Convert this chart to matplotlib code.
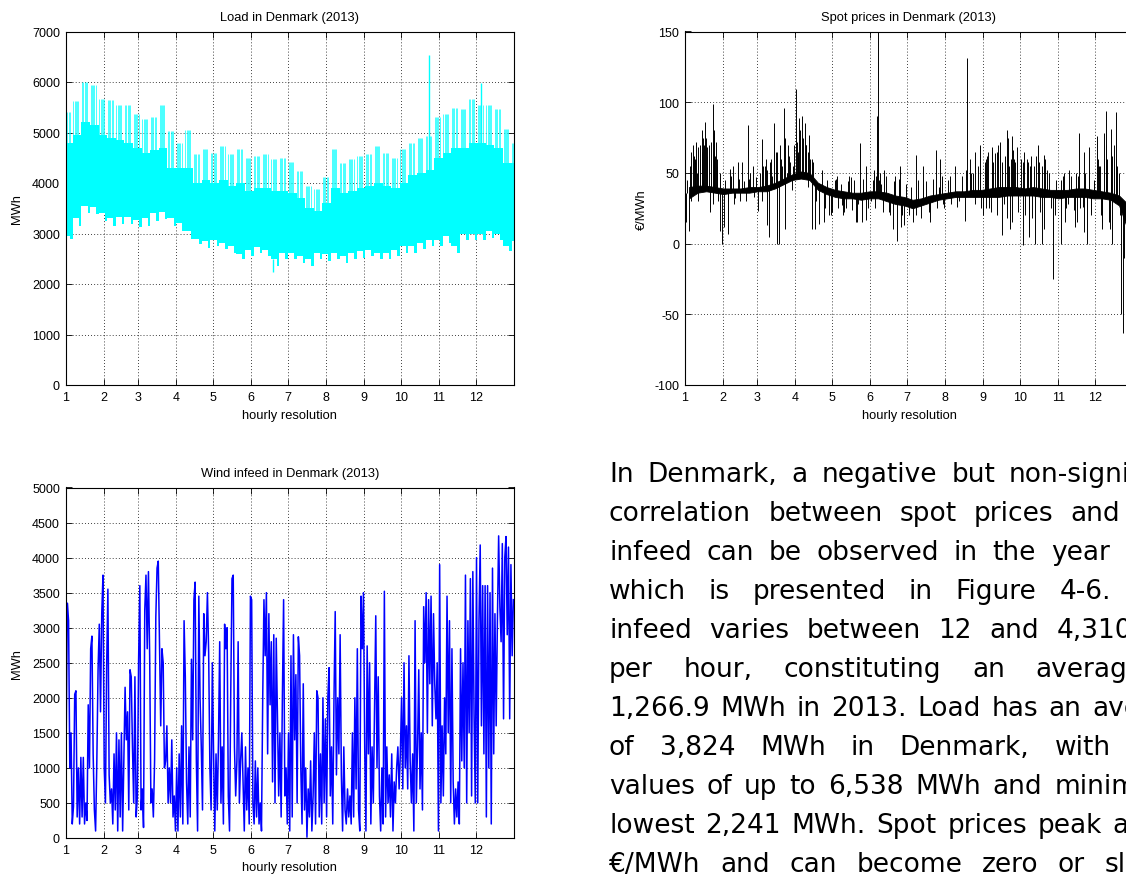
import numpy as np
import matplotlib
matplotlib.use("Agg")
import matplotlib.pyplot as plt

plt.rcParams["axes.unicode_minus"] = False

# ---------------------------------------------------------------
# Calendar of 2013 on a day-of-year axis (ticks at month starts)
# ---------------------------------------------------------------
month_start_days = [0, 31, 59, 90, 120, 151, 181, 212, 243, 273, 304, 334]
month_labels = [str(m) for m in range(1, 13)]
year_days = 365

# ---------------------------------------------------------------
# Load (MWh): weekday / weekend envelopes of the hourly series
# ---------------------------------------------------------------
load_wd_top = [5400, 5620, 6000, 5950, 5660, 5640, 5550, 5550, 5360, 5260,
               5310, 5550, 5030, 4800, 5050, 4570, 4670, 4600, 4730, 4570,
               4670, 4500, 4540, 4570, 4470, 4500, 4420, 4230, 3940, 3880,
               4110, 4670, 4400, 4470, 4540, 4570, 4730, 4600, 4500, 4670,
               4800, 4900, 4930, 5300, 5360, 5490, 5460, 5660, 5550, 5550,
               5460, 5060, 4800]
load_we_top = [4800, 4950, 5200, 5150, 4950, 4900, 4850, 4800, 4700, 4600,
               4650, 4700, 4300, 4300, 4300, 4000, 4050, 4000, 4050, 3950,
               4000, 3850, 3900, 3900, 3850, 3850, 3800, 3700, 3500, 3450,
               3600, 3900, 3800, 3850, 3900, 3950, 4000, 3950, 3900, 4000,
               4150, 4200, 4250, 4500, 4600, 4700, 4700, 4800, 4800, 4750,
               4700, 4400]
load_wd_low = [2950, 3300, 3550, 3530, 3400, 3300, 3330, 3330, 3270, 3300,
               3400, 3430, 3300, 3200, 3050, 2900, 2850, 2880, 2820, 2750,
               2600, 2680, 2740, 2680, 2500, 2620, 2620, 2550, 2500, 2620,
               2600, 2620, 2550, 2620, 2650, 2680, 2620, 2620, 2680, 2750,
               2750, 2820, 2880, 2880, 2950, 2750, 3000, 3000, 3000, 3050,
               3000, 2750, 2850]
load_we_low = [2900, 3150, 3400, 3380, 3250, 3150, 3180, 3180, 3120, 3150,
               3250, 3280, 3150, 3050, 2900, 2790, 2720, 2750, 2690, 2620,
               2490, 2560, 2620, 2560, 2360, 2490, 2490, 2420, 2360, 2490,
               2460, 2490, 2420, 2490, 2520, 2560, 2490, 2490, 2560, 2620,
               2620, 2690, 2750, 2750, 2820, 2620, 2880, 2880, 2880, 2920,
               2880, 2650]
load_peak_days = [295.6, 338.0]
load_peak_vals = [6538, 5990]
load_dip_days = [169.0]
load_dip_vals = [2241]

# ---------------------------------------------------------------
# Spot prices (EUR/MWh): weekly core band plus single-hour spikes
# ---------------------------------------------------------------
spot_core_lo = [32, 36, 37, 36, 35, 36, 36, 36, 37, 37, 39, 42, 45, 46, 45,
                38, 35, 33, 32, 32, 31, 32, 32, 30, 28, 27, 25, 27, 29, 31,
                32, 33, 33, 33, 33, 33, 33, 34, 34, 34, 34, 33, 33, 32, 33,
                33, 33, 32, 32, 31, 27, 10, 10]
spot_core_hi = [40, 41, 41, 40, 39, 39, 39, 40, 40, 41, 43, 46, 49, 51, 50,
                43, 40, 38, 37, 36, 36, 37, 37, 36, 34, 33, 31, 32, 34, 35,
                36, 37, 37, 38, 38, 39, 40, 40, 40, 39, 40, 39, 38, 38, 38,
                39, 39, 38, 37, 36, 34, 28, 28]
spot_spike_days = [6.8, 9.6, 12.3, 13.7, 16.4, 17.7, 19.7, 22.7, 24.0, 25.1,
                   36.9, 39.6, 43.7, 46.4, 51.9, 55.2, 62.8, 65.5, 69.6, 72.9,
                   77.8, 80.5, 90.6, 93.4, 95.5, 97.7, 101.0, 112.0, 123.0,
                   134.0, 142.8, 147.4, 154.2, 156.2, 157.0, 162.4, 171.4,
                   175.5, 188.4, 193.8, 204.2, 207.5, 230.1, 232.0, 236.1,
                   240.2, 247.1, 249.8, 253.9, 256.6, 262.0, 266.1, 270.2,
                   278.3, 287.9, 292.0, 296.1, 308.4, 312.5, 320.7, 324.8,
                   328.9, 335.2, 341.2, 342.6, 346.7, 350.8, 353.5,
                   1.4, 3.3, 20.4, 28.6, 30.5, 32.2, 34.9, 60.0, 67.3, 68.2,
                   75.0, 76.4, 81.3, 103.7, 106.4, 109.2, 113.3, 117.4, 120.1,
                   128.3, 131.0, 139.2, 144.1, 147.9, 151.5, 166.5, 169.3,
                   172.5, 175.9, 178.8, 182.9, 210.2, 228.0, 243.0, 258.0,
                   264.8, 275.2, 279.8, 285.3, 290.7, 299.8, 301.7, 306.3,
                   309.9, 319.4, 327.1, 330.3, 339.9, 348.1, 355.0, 356.3,
                   357.6]
spot_spike_vals = [70, 72, 70, 80, 86, 75, 70, 99, 80, 72,
                   53, 55, 58, 58, 84, 55, 74, 55, 58, 85,
                   70, 96, 109, 89, 90, 85, 77, 52, 46,
                   48, 71, 55, 52, 90, 180, 52, 48,
                   55, 63, 55, 66, 60, 131, 60, 65,
                   70, 65, 65, 65, 72, 80, 76, 68,
                   60, 70, 63, 50, 50, 52, 78, 65,
                   68, 76, 78, 94, 81, 93, 50,
                   15, 9, 22, 9, 0, 12, 7, 23, 13, 5,
                   0, 0, 10, 10, 10, 14, 15, 20, 22,
                   27, 25, 15, 15, 17, 30, 22, 10,
                   2, 12, 13, 20, 28, 16, 20, 6,
                   10, -1, 5, 0, 0, -25, 20, 0,
                   15, 15, 0, 20, 10, 0, -50, -63,
                   -10]
# smaller excursions around the core band
spot_minor_days = [2, 4, 5, 8, 10, 11, 14, 15, 18, 21, 23, 26, 27, 29,
                   33, 35, 38, 41, 44, 48, 50, 53, 56, 58,
                   61, 63, 66, 71, 74, 79, 83, 85, 87, 89,
                   92, 99, 100, 104, 107, 110, 114, 116, 119,
                   122, 125, 127, 130, 133, 136, 138, 141, 145, 149,
                   153, 155, 159, 161, 164, 167, 170, 174, 177, 180,
                   184, 186, 190, 192, 196, 199, 202, 205, 209, 211,
                   214, 217, 220, 223, 226, 233, 236, 239, 241,
                   245, 248, 251, 254, 257, 260, 264, 268, 271,
                   275, 277, 281, 283, 286, 289, 295, 298, 302,
                   306, 310, 314, 317, 320, 322, 326, 331, 333,
                   337, 339, 344, 345, 348, 352, 354,
                   5.5, 7.5, 8.3, 11.0, 12.8, 15.0, 16.0, 18.5, 21.0, 23.5,
                   24.5, 26.0, 64, 67, 70, 75.5, 78.5, 82, 84, 86, 88,
                   91.5, 92.5, 94, 96, 98.5, 100.5, 102, 104.5, 155.5, 158,
                   160, 244, 246, 250, 252.5, 255, 258.5, 261, 263, 265.5,
                   267, 269, 274, 276, 279, 282, 284.5, 288, 291, 293, 336,
                   338, 343, 347, 349, 351, 245.5, 249, 262, 266, 280, 292,
                   300, 318, 325, 340, 346, 40, 45, 52, 124, 129, 135, 140,
                   188, 194, 200, 207, 216, 222, 229, 235, 308, 312, 318.5,
                   324, 329]
spot_minor_vals = [45, 55, 30, 60, 50, 30, 65, 45, 62, 50, 28, 55, 30, 50,
                   45, 30, 48, 32, 46, 44, 30, 50, 33, 47,
                   50, 30, 60, 48, 65, 55, 50, 62, 38, 70,
                   62, 70, 40, 60, 30, 42, 25, 45, 20,
                   45, 25, 42, 22, 44, 24, 45, 28, 46, 25,
                   45, 25, 50, 22, 48, 20, 44, 46, 20, 42,
                   40, 15, 45, 18, 44, 22, 46, 25, 48, 25,
                   45, 28, 55, 30, 48, 50, 28, 55, 25,
                   60, 25, 58, 20, 62, 28, 55, 60, 22,
                   58, 20, 55, 18, 62, 22, 52, 25, 45,
                   45, 25, 48, 24, 48, 25, 50, 22, 45,
                   55, 20, 60, 15, 62, 55, 20,
                   65, 62, 58, 68, 60, 75, 70, 68, 72, 78,
                   62, 60, 55, 52, 60, 65, 60, 75, 70, 58, 55,
                   72, 65, 80, 75, 70, 65, 60, 58, 48, 45,
                   42, 58, 62, 68, 64, 70, 58, 62, 75, 60,
                   66, 58, 60, 65, 58, 62, 55, 58, 55, 60, 60,
                   55, 70, 65, 70, 60, 25, 22, 18, 15, 12, 10,
                   5, 12, 8, 15, 10, 28, 30, 46, 48, 20, 47, 15,
                   20, 42, 15, 40, 48, 26, 52, 50, 48, 28, 50,
                   26, 52]

# ---------------------------------------------------------------
# Wind infeed (MWh): one reading per day of 2013
# ---------------------------------------------------------------
wind_jan = [1300, 3350, 3100, 1000, 1500, 200, 450, 2050, 2100, 300, 1000,
            200, 1150, 300, 1150, 200, 500, 250, 1900, 1000, 2700, 2880,
            1200, 400, 100, 1100, 2400, 3050, 1800, 3200, 3750]
wind_feb = [1000, 500, 2450, 3550, 900, 500, 700, 200, 1200, 400, 1500, 100,
            1400, 300, 1500, 100, 1100, 2150, 1400, 1800, 400, 2400, 2300,
            1300, 500, 2300, 300, 600]
wind_mar = [2550, 3600, 400, 700, 150, 3250, 3750, 2700, 3800, 2600, 500,
            700, 300, 1100, 3150, 3850, 3950, 2800, 1600, 2700, 2500, 1000,
            1100, 1600, 500, 1000, 500, 1400, 300, 600, 100]
wind_apr = [1000, 100, 1200, 300, 1600, 200, 3100, 2300, 800, 200, 1300,
            300, 2550, 1400, 3400, 3650, 1100, 100, 3450, 2000, 1300, 400,
            3200, 2600, 2800, 3500, 2650, 1000, 400, 2500]
wind_may = [1200, 100, 1200, 400, 1400, 2800, 500, 1300, 200, 3050, 2700,
            3000, 600, 100, 2100, 3700, 3750, 1300, 600, 1100, 2800, 500,
            1100, 1500, 800, 100, 1300, 400, 1000, 200, 3450]
wind_jun = [3400, 500, 200, 1100, 300, 1000, 200, 500, 100, 2000, 3400, 2600,
            3500, 1200, 3200, 1900, 2800, 800, 2900, 500, 2850, 1700, 600,
            1500, 300, 2000, 3400, 600, 1000, 200]
wind_jul = [1500, 100, 2600, 300, 2900, 1400, 2330, 500, 2870, 2600, 1000,
            200, 2200, 400, 1000, 12, 700, 300, 1100, 100, 600, 1500, 200,
            2100, 2000, 300, 1200, 200, 2000, 500, 1700]
wind_aug = [300, 2000, 2430, 600, 1300, 200, 2000, 3230, 900, 2000, 1200,
            2900, 900, 100, 1300, 400, 200, 700, 300, 600, 200, 1500, 300,
            2000, 700, 2700, 400, 100, 3450, 2700, 3500]
wind_sep = [1300, 100, 2740, 1200, 2500, 200, 1300, 500, 1800, 3170, 1000,
            2300, 600, 100, 1000, 200, 3520, 300, 1300, 500, 900, 300, 1200,
            100, 800, 500, 1000, 1300, 700, 1200]
wind_oct = [2000, 700, 2500, 1000, 1600, 700, 2600, 1100, 500, 1200, 100,
            3100, 500, 1300, 2400, 700, 1500, 400, 3300, 2500, 3500, 1500,
            3400, 2200, 3450, 1600, 3200, 2200, 1700, 2500, 100]
wind_nov = [3900, 500, 1600, 600, 2000, 1200, 3450, 1500, 3100, 500, 2700,
            800, 200, 700, 300, 800, 200, 2700, 1100, 2500, 1000, 3750, 500,
            3100, 1500, 3700, 600, 3800, 1750, 500]
wind_dec = [4000, 500, 3100, 4180, 1600, 3600, 1200, 3600, 300, 3600, 1000,
            3500, 200, 3850, 1200, 3200, 1600, 3100, 4310, 3300, 2800, 4200,
            1700, 4000, 4300, 2900, 4150, 1700, 3900, 2600, 3400]

# ---------------------------------------------------------------
# Accompanying paragraph (justified lines, right margin per line)
# ---------------------------------------------------------------
paragraph_lines = [
    "In Denmark, a negative but non-significant",
    "correlation between spot prices and wind",
    "infeed can be observed in the year 2013,",
    "which is presented in Figure 4-6. Wind",
    "infeed varies between 12 and 4,310 MWh",
    "per hour, constituting an average of",
    "1,266.9 MWh in 2013. Load has an average",
    "of 3,824 MWh in Denmark, with peak",
    "values of up to 6,538 MWh and minimum at",
    "lowest 2,241 MWh. Spot prices peak at 130",
    "\u20ac/MWh and can become zero or slightly",
]
line_right_px = [1205, 1200, 1200, 1200, 1215, 1200, 1200, 1200, 1218, 1200,
                 1200]

# ---------------------------------------------------------------
W, H = 1126, 878
fig = plt.figure(figsize=(W / 100, H / 100), dpi=100)
fig.patch.set_facecolor("white")

AX_FONT = ["Liberation Sans", "DejaVu Sans"]


def px_axes(left, top, width, height):
    return fig.add_axes([left / W, 1 - (top + height) / H, width / W, height / H])


def style_axes(ax, title, ylabel, ylabel_x):
    ax.set_xlim(0, year_days)
    ax.set_xticks(month_start_days)
    ax.set_xticklabels(month_labels)
    ax.tick_params(direction="in", length=4.5, width=0.6, top=True,
                   right=True, labelsize=9, pad=4.3, colors="black")
    ax.tick_params(axis="y", pad=4)
    for lab in ax.get_xticklabels() + ax.get_yticklabels():
        lab.set_fontfamily(AX_FONT)
    for sp in ax.spines.values():
        sp.set_linewidth(0.8)
        sp.set_color("black")
    ax.grid(True, color="black", linewidth=0.6, linestyle=(0, (1.0, 2.7)))
    ax.set_axisbelow(True)
    ax.set_title(title, fontsize=9.3, family=AX_FONT, pad=8)
    ax.set_xlabel("hourly resolution", fontsize=9.3, family=AX_FONT)
    ax.xaxis.set_label_coords(0.5, -0.0665)
    ax.set_ylabel(ylabel, fontsize=9.3, family=AX_FONT)
    ax.yaxis.set_label_coords(ylabel_x, 0.5)


# ---- Load ----
ax_load = px_axes(65.5, 32.5, 448.5, 353.5)
d = np.arange(year_days)
is_weekend = ((d + 1) % 7) >= 5          # 1 Jan 2013 was a Tuesday
switch = np.flatnonzero(np.diff(is_weekend.astype(int))) + 1
block_edges = np.concatenate([[0], switch, [year_days]]).astype(float)
n_blocks = len(block_edges) - 1

wd_top = np.array(load_wd_top, float)
we_top = np.array(load_we_top, float)
core_top, low, block_peak = [], [], []
for b in range(n_blocks):
    k = b // 2
    if b % 2 == 0:      # Monday-Friday block
        core_top.append(we_top[min(k, len(we_top) - 1)])
        low.append(load_wd_low[k])
        block_peak.append(wd_top[k])
    else:               # weekend block
        core_top.append(we_top[k])
        low.append(load_we_low[k])
        block_peak.append(we_top[k])
core_top = np.array(core_top)
low = np.array(low, float)
block_peak = np.array(block_peak)

ax_load.fill_between(block_edges, np.append(low, low[-1]),
                     np.append(core_top, core_top[-1]), step="post",
                     color="#00ffff", linewidth=0, zorder=2)
# daily peaks of the working days rise above the dense core
day_block = np.searchsorted(block_edges, d, side="right") - 1
workday = ~is_weekend
ax_load.vlines(d[workday] + 0.5, core_top[day_block[workday]] - 50,
               block_peak[day_block[workday]], color="#00ffff",
               linewidth=0.5, zorder=2)
idx = np.searchsorted(block_edges, load_peak_days, side="right") - 1
ax_load.vlines(load_peak_days, core_top[idx], load_peak_vals,
               color="#00ffff", linewidth=1.0, zorder=2)
idx = np.searchsorted(block_edges, load_dip_days, side="right") - 1
ax_load.vlines(load_dip_days, load_dip_vals, low[idx],
               color="#00ffff", linewidth=1.0, zorder=2)
ax_load.set_ylim(0, 7000)
ax_load.set_yticks(range(0, 7001, 1000))
style_axes(ax_load, "Load in Denmark (2013)", "MWh", -0.094)

# ---- Spot prices ----
ax_spot = px_axes(684.7, 32.5, 448.5, 353.5)
week_edges = np.append(np.arange(0, year_days, 7), year_days).astype(float)
week_mid = (week_edges[:-1] + week_edges[1:]) / 2
lo = np.array(spot_core_lo, float)
hi = np.array(spot_core_hi, float)
ax_spot.fill_between(week_mid, lo, hi, color="black", linewidth=0.6,
                     edgecolor="black", zorder=2)
all_days = np.array(spot_spike_days + spot_minor_days, float)
all_vals = np.array(spot_spike_vals + spot_minor_vals, float)
base = (np.interp(all_days, week_mid, lo) + np.interp(all_days, week_mid, hi)) / 2
ax_spot.vlines(all_days, base, all_vals, color="black", linewidth=0.7,
               zorder=2)
ax_spot.set_ylim(-100, 150)
ax_spot.set_yticks(range(-100, 151, 50))
style_axes(ax_spot, "Spot prices in Denmark (2013)", "\u20ac/MWh", -0.083)

# ---- Wind infeed ----
ax_wind = px_axes(65.5, 488.5, 448.5, 350.5)
wind = np.concatenate([wind_jan, wind_feb, wind_mar, wind_apr, wind_may,
                       wind_jun, wind_jul, wind_aug, wind_sep, wind_oct,
                       wind_nov, wind_dec]).astype(float)
ax_wind.plot(np.arange(len(wind)) + 0.5, wind, color="#0000ff",
             linewidth=1.1, zorder=2)
ax_wind.set_ylim(0, 5000)
ax_wind.set_yticks(range(0, 5001, 500))
style_axes(ax_wind, "Wind infeed in Denmark (2013)", "MWh", -0.094)

# ---- Paragraph, fully justified ----
TEXT_SIZE = 19
left_px = 609.0
first_baseline, line_step = 482.0, 39.0
renderer = fig.canvas.get_renderer()
for i, line in enumerate(paragraph_lines):
    words = line.split(" ")
    widths = []
    for w in words:
        t = fig.text(0, 0, w, fontsize=TEXT_SIZE, family="DejaVu Sans")
        widths.append(t.get_window_extent(renderer).width)
        t.remove()
    gap = (line_right_px[i] - left_px - sum(widths)) / (len(words) - 1)
    x = left_px
    y = first_baseline + i * line_step
    for w, wd in zip(words, widths):
        fig.text(x / W, 1 - y / H, w, fontsize=TEXT_SIZE, family="DejaVu Sans",
                 va="baseline", ha="left", color="black")
        x += wd + gap

fig.savefig("out.png", dpi=100, facecolor="white")
